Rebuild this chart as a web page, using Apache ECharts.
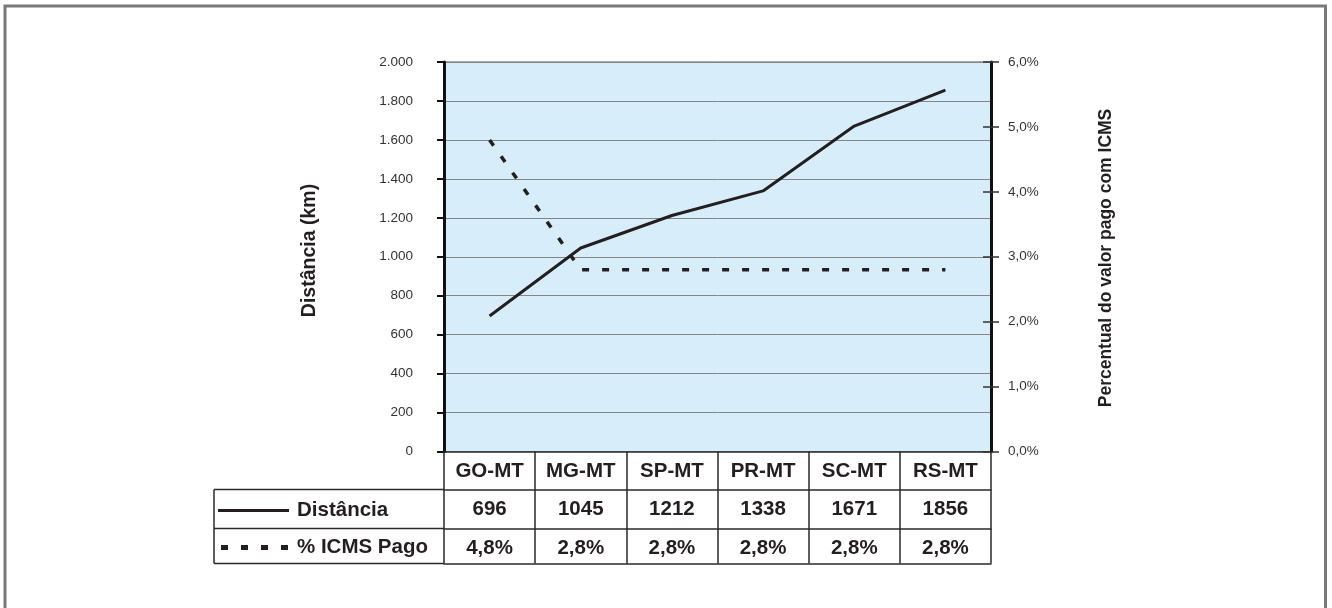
<!DOCTYPE html>
<html>
<head>
<meta charset="utf-8">
<script src="https://cdn.jsdelivr.net/npm/echarts@6/dist/echarts.min.js"></script>
<style>
html,body{margin:0;padding:0;background:#fff;}
#chart{width:1332px;height:608px;}
</style>
</head>
<body>
<div id="chart"></div>
<script>
const categories = ['GO-MT','MG-MT','SP-MT','PR-MT','SC-MT','RS-MT'];
const distancia = [696, 1045, 1212, 1338, 1671, 1856];
const icmsPago = [4.8, 2.8, 2.8, 2.8, 2.8, 2.8];
const distTicks = [0, 200, 400, 600, 800, 1000, 1200, 1400, 1600, 1800, 2000];
const pctTicks = [0, 1, 2, 3, 4, 5, 6];
const seriesNames = ['Distância', '% ICMS Pago'];
const axisTitles = ['Distância (km)', 'Percentual do valor pago com ICMS'];

const FONT = '"Liberation Sans", Arial, Helvetica, sans-serif';
const G = {left: 444, top: 62, width: 547, height: 389.5};
const ROW = [38, 39, 35]; // table rows below plot
const LEG_LEFT = 214;
const bottomY = G.top + G.height;
const r1 = bottomY + ROW[0], r2 = r1 + ROW[1], r3 = r2 + ROW[2];

const fmtDist = v => v >= 1000 ? Math.floor(v/1000) + '.' + String(v % 1000).padStart(3, '0') : String(v);
const fmtPct = v => v.toFixed(1).replace('.', ',') + '%';

const chart = echarts.init(document.getElementById('chart'), null, {renderer: 'canvas'});

const tableLine = {color: '#2a2a2a', width: 1.5};
const cellText = {fontFamily: FONT, fontWeight: 'bold', fontSize: 20.5, color: '#231f20'};

function catAxis(offset, labels, extra) {
  return Object.assign({
    type: 'category', data: categories, position: 'bottom', offset: offset,
    boundaryGap: true,
    axisLine: {show: true, onZero: false, lineStyle: tableLine},
    axisTick: {show: false},
    splitLine: {show: false},
    axisLabel: labels ? Object.assign({show: true, interval: 0, margin: 9, formatter: (v, i) => labels[i]}, cellText) : {show: false}
  }, extra || {});
}

const option = {
  animation: false,
  backgroundColor: '#ffffff',
  grid: {left: G.left, top: G.top, width: G.width, height: G.height, show: true,
         backgroundColor: '#d7eefa', borderColor: '#555', borderWidth: 1},
  xAxis: [
    catAxis(0, categories, {axisTick: {show: true, interval: 0, length: ROW[0] + ROW[1] + ROW[2], lineStyle: tableLine}}),
    catAxis(ROW[0], distancia.map(String)),
    catAxis(ROW[0] + ROW[1], icmsPago.map(fmtPct)),
    catAxis(ROW[0] + ROW[1] + ROW[2], null)
  ],
  yAxis: [
    {type: 'value', position: 'left', min: distTicks[0], max: distTicks[distTicks.length-1],
     interval: distTicks[1] - distTicks[0],
     axisLine: {show: true, lineStyle: {color: '#111', width: 3}},
     axisTick: {show: true, length: 7, lineStyle: {color: '#111', width: 2}},
     splitLine: {show: true, lineStyle: {color: '#858585', width: 1}},
     axisLabel: {margin: 31, formatter: fmtDist, fontFamily: FONT, fontSize: 13.5, color: '#333'}},
    {type: 'value', position: 'right', min: pctTicks[0], max: pctTicks[pctTicks.length-1],
     interval: pctTicks[1] - pctTicks[0],
     axisLine: {show: true, lineStyle: {color: '#111', width: 3}},
     axisTick: {show: true, length: 8, lineStyle: {color: '#333', width: 1.5}},
     splitLine: {show: false},
     axisLabel: {margin: 17, formatter: fmtPct, fontFamily: FONT, fontSize: 13.5, color: '#333'}},
    {type: 'value', position: 'right', min: pctTicks[0], max: pctTicks[pctTicks.length-1],
     interval: pctTicks[1] - pctTicks[0],
     axisLine: {show: false},
     axisTick: {show: true, inside: true, length: 8, lineStyle: {color: '#333', width: 1.5}},
     splitLine: {show: false}, axisLabel: {show: false}}
  ],
  series: [
    {name: seriesNames[0], type: 'line', xAxisIndex: 0, yAxisIndex: 0, data: distancia,
     showSymbol: false, symbol: 'none', lineStyle: {color: '#231f20', width: 3}, z: 5},
    {name: seriesNames[1], type: 'line', xAxisIndex: 0, yAxisIndex: 1, data: icmsPago,
     showSymbol: false, symbol: 'none', lineStyle: {color: '#231f20', width: 3.5, type: [7, 13], cap: 'butt'}, z: 5}
  ],
  graphic: [
    {type: 'rect', shape: {x: 5, y: 6, width: 1320.5, height: 700},
     style: {fill: 'none', stroke: '#7a7a7a', lineWidth: 3}, silent: true},
    // legend column lines
    {type: 'line', shape: {x1: LEG_LEFT, y1: r1, x2: G.left, y2: r1}, style: {stroke: tableLine.color, lineWidth: tableLine.width}},
    {type: 'line', shape: {x1: LEG_LEFT, y1: r2, x2: G.left, y2: r2}, style: {stroke: tableLine.color, lineWidth: tableLine.width}},
    {type: 'line', shape: {x1: LEG_LEFT, y1: r3, x2: G.left, y2: r3}, style: {stroke: tableLine.color, lineWidth: tableLine.width}},
    {type: 'line', shape: {x1: LEG_LEFT, y1: r1, x2: LEG_LEFT, y2: r3}, style: {stroke: tableLine.color, lineWidth: tableLine.width}},
    // legend keys
    {type: 'line', shape: {x1: LEG_LEFT + 4, y1: (r1 + r2) / 2 + 1.5, x2: LEG_LEFT + 75, y2: (r1 + r2) / 2 + 1.5},
     style: {stroke: '#231f20', lineWidth: 3}},
    {type: 'line', shape: {x1: LEG_LEFT + 7, y1: (r2 + r3) / 2 + 1.5, x2: LEG_LEFT + 75, y2: (r2 + r3) / 2 + 1.5},
     style: {stroke: '#231f20', lineWidth: 5, lineDash: [7, 13]}},
    {type: 'text', x: LEG_LEFT + 83, y: (r1 + r2) / 2 + 1,
     style: {text: seriesNames[0], font: 'bold 20.5px ' + FONT, fill: '#231f20', textVerticalAlign: 'middle', verticalAlign: 'middle'}},
    {type: 'text', x: LEG_LEFT + 83, y: (r2 + r3) / 2 + 1,
     style: {text: seriesNames[1], font: 'bold 20.5px ' + FONT, fill: '#231f20', textVerticalAlign: 'middle', verticalAlign: 'middle'}},
    // axis titles
    {type: 'text', x: 310, y: 250.5, rotation: Math.PI / 2,
     style: {text: axisTitles[0], font: 'bold 19.5px ' + FONT, fill: '#231f20', align: 'center', verticalAlign: 'middle'}},
    {type: 'text', x: 1106, y: 258, rotation: Math.PI / 2,
     style: {text: axisTitles[1], font: 'bold 17.5px ' + FONT, fill: '#231f20', align: 'center', verticalAlign: 'middle'}}
  ]
};
chart.setOption(option);
</script>
</body>
</html>
